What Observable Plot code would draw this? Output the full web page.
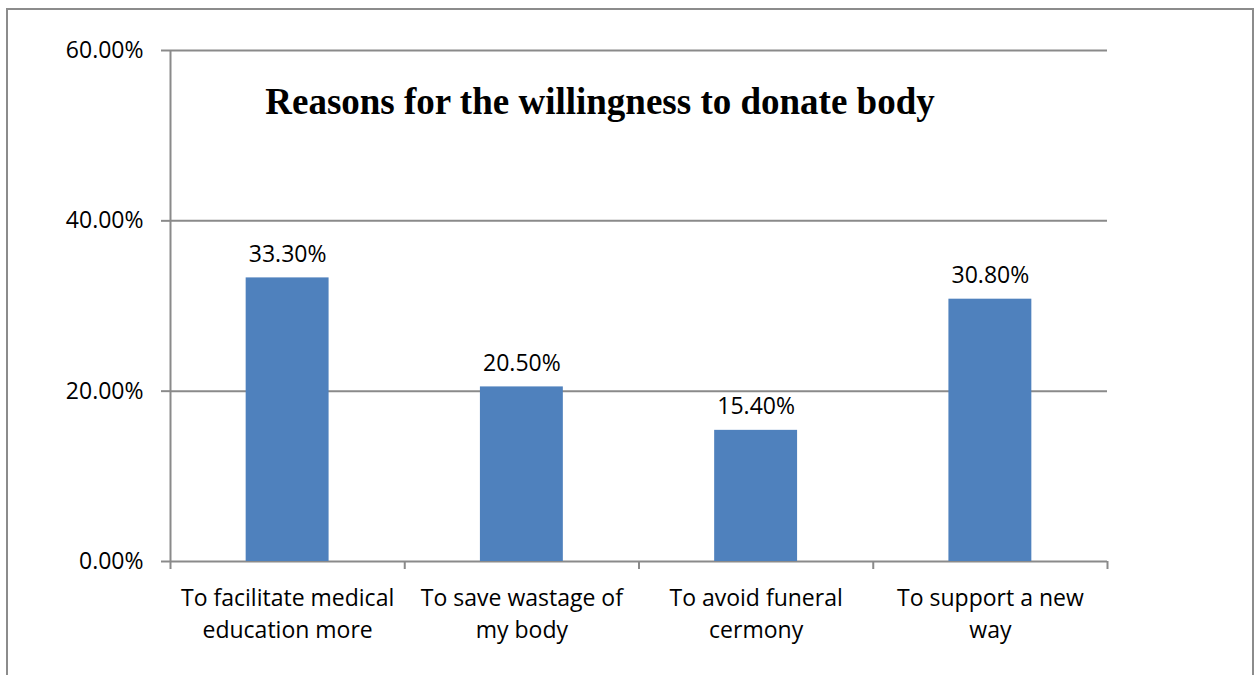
<!DOCTYPE html>
<html>
<head>
<meta charset="utf-8">
<script src="https://cdn.jsdelivr.net/npm/d3@7"></script>
<script src="https://cdn.jsdelivr.net/npm/@observablehq/plot@0.6"></script>
<style>
  html, body { margin: 0; padding: 0; background: #fff; }
  body { width: 1259px; height: 675px; position: relative; overflow: hidden; }
  #frame { position: absolute; left: 6px; top: 8px; width: 1248px; height: 700px;
           border-left: 2px solid #8c8c8c; border-top: 2px solid #8c8c8c; border-right: 2px solid #8c8c8c;
           box-sizing: border-box; }
  #chart { position: absolute; left: 0; top: 0; }
</style>
</head>
<body>
<div id="frame"></div>
<div id="chart"></div>
<script>
const title = "Reasons for the willingness to donate body";
const categories = [
  "To facilitate medical\neducation more",
  "To save wastage of\nmy body",
  "To avoid funeral\ncermony",
  "To support a new\nway"
];
const values = [0.333, 0.205, 0.154, 0.308];
const yTicks = [0, 0.2, 0.4, 0.6];

const data = categories.map((c, i) => ({ i, category: c, value: values[i] }));
const half = 0.177;
const pct = d3.format(".2%");

const chart = Plot.plot({
  width: 1259,
  height: 675,
  marginLeft: 170,
  marginRight: 152,
  marginTop: 50,
  marginBottom: 114,
  style: { fontFamily: "'Open Sans', sans-serif", fontSize: "23px", color: "#000", background: "transparent" },
  x: { type: "linear", domain: [0, categories.length], axis: null },
  y: { domain: [0, 0.6], axis: null },
  marks: [
    Plot.ruleY(yTicks, { stroke: "#8a8a8a", strokeWidth: 2, strokeOpacity: 1 }),
    Plot.ruleX([0], { stroke: "#8a8a8a", strokeWidth: 2, strokeOpacity: 1 }),
    Plot.axisY({ ticks: yTicks, tickFormat: d3.format(".2%"), tickSize: 9, tickPadding: 18,
                 stroke: "#8a8a8a", strokeWidth: 2, strokeOpacity: 1, fill: "#000", fontSize: 23, label: null }),
    Plot.axisX({ ticks: d3.range(categories.length + 1), tickFormat: () => "", tickSize: 8,
                 stroke: "#8a8a8a", strokeWidth: 2, strokeOpacity: 1, label: null }),
    Plot.rectY(data, { x1: d => d.i + 0.5 - half, x2: d => d.i + 0.5 + half, y1: 0, y2: "value", fill: "#4f81bd" }),
    Plot.text(data, { x: d => d.i + 0.5, y: "value", text: d => pct(d.value), lineAnchor: "bottom", dy: -16,
                      fill: "#000", fontSize: 23 }),
    Plot.text(data, { x: d => d.i + 0.5, frameAnchor: "bottom", text: "category", lineAnchor: "top", dy: 22,
                      lineHeight: 1.39, fill: "#000", fontSize: 23 }),
    Plot.text([title], { frameAnchor: "top", text: d => d, dx: -39, dy: 63, lineAnchor: "bottom",
                         fontFamily: "'Liberation Serif', 'Times New Roman', serif", fontWeight: "bold",
                         fontSize: 37, fill: "#000" })
  ]
});
document.getElementById("chart").appendChild(chart);
</script>
</body>
</html>
